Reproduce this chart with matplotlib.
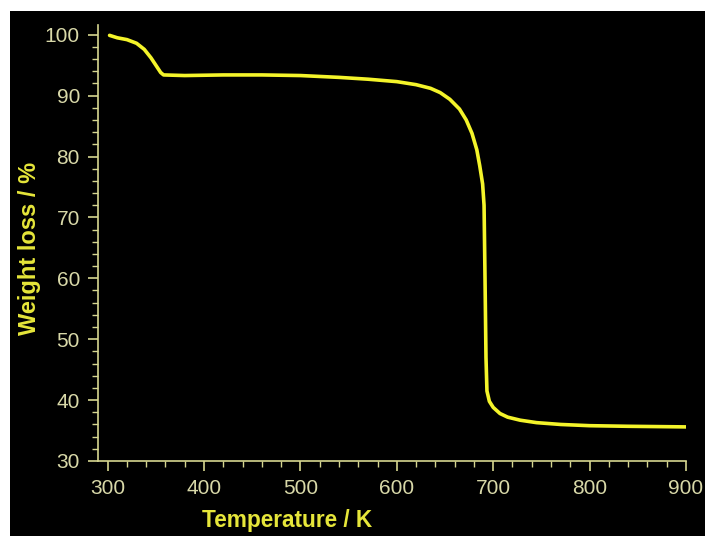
import matplotlib
matplotlib.use("Agg")
import matplotlib.pyplot as plt
from matplotlib.patches import Rectangle
from matplotlib.ticker import MultipleLocator

# Thermogravimetric curve
temperature_K = [302, 310, 320, 330, 338, 345, 350, 355, 358, 380, 420, 460, 500,
                 540, 570, 600, 620, 635, 645, 655, 665, 672, 678, 683, 686, 689,
                 690.5, 691.5, 692.5, 693.5, 696, 700, 707, 715, 728, 745, 770,
                 800, 840, 900]
weight_pct = [99.9, 99.5, 99.2, 98.6, 97.6, 96.2, 95.0, 93.8, 93.4, 93.3, 93.4,
              93.4, 93.3, 93.0, 92.7, 92.3, 91.8, 91.2, 90.5, 89.4, 87.8, 86.0,
              83.8, 81.1, 78.5, 75.5, 72.0, 60.0, 47.0, 41.5, 39.8, 38.8, 37.8,
              37.2, 36.7, 36.3, 36.0, 35.8, 35.7, 35.6]

x_ticks = [300, 400, 500, 600, 700, 800, 900]
y_ticks = [30, 40, 50, 60, 70, 80, 90, 100]

line_color = "#f4f42a"
label_color = "#e6e63a"
tick_color = "#d8d8a8"
spine_color = "#d6d690"

fig = plt.figure(figsize=(7.05, 5.36), dpi=100, facecolor="white")
# black panel behind the plot
fig.patches.append(Rectangle((10 / 705, 0), 1 - 10 / 705, 1 - 11 / 536,
                             transform=fig.transFigure, facecolor="black",
                             edgecolor="none", zorder=-10))

ax = fig.add_axes([98 / 705, (536 - 461) / 536, 588 / 705, (461 - 25) / 536])
ax.set_zorder(1)
ax.set_facecolor("black")
ax.plot(temperature_K, weight_pct, color=line_color, lw=2.6,
        solid_capstyle="round", solid_joinstyle="round")

ax.set_xlim(290, 900)
ax.set_ylim(30, 101.6)
ax.set_xticks(x_ticks)
ax.set_yticks(y_ticks)
ax.xaxis.set_minor_locator(MultipleLocator(20))
ax.yaxis.set_minor_locator(MultipleLocator(2))

for side in ("top", "right"):
    ax.spines[side].set_visible(False)
for side in ("left", "bottom"):
    ax.spines[side].set_color(spine_color)
    ax.spines[side].set_linewidth(1.2)

ax.tick_params(which="major", direction="out", length=7, width=1.2,
               color=spine_color, labelcolor=tick_color, labelsize=15)
ax.tick_params(axis="x", which="major", pad=6)
ax.tick_params(axis="y", which="major", pad=6)
ax.tick_params(which="minor", direction="out", length=4, width=1.0,
               color=spine_color)
for lab in ax.get_xticklabels() + ax.get_yticklabels():
    lab.set_family("Liberation Sans")

fig.text(287 / 705, 1 - 521 / 536, "Temperature / K", color=label_color,
         fontsize=16.3, fontweight="bold", family="Liberation Sans",
         ha="center", va="center", zorder=2)
fig.text(30 / 705, 1 - 248 / 536, "Weight loss / %", color=label_color,
         fontsize=17, fontweight="bold", family="Liberation Sans",
         ha="center", va="center", rotation=90, zorder=2)

fig.savefig("out.png", dpi=100, facecolor=fig.get_facecolor())
